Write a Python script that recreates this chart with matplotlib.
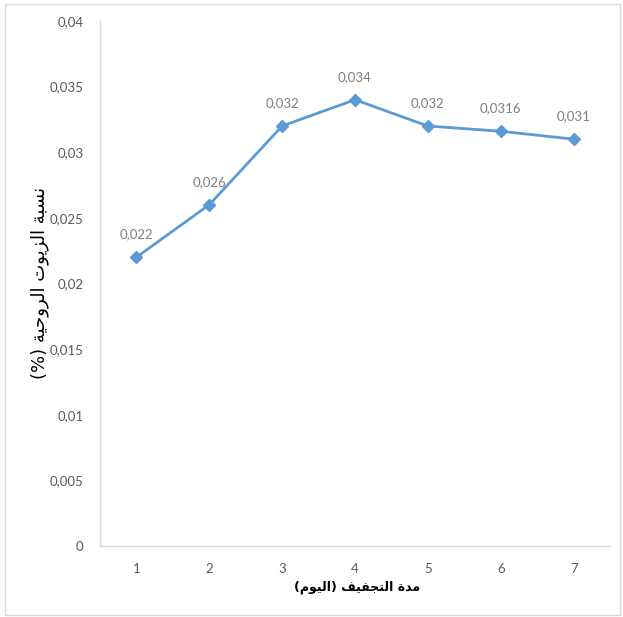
import matplotlib
matplotlib.use("Agg")
import matplotlib.pyplot as plt
from matplotlib.patches import Rectangle

days = [1, 2, 3, 4, 5, 6, 7]
oil_pct = [0.022, 0.026, 0.032, 0.034, 0.032, 0.0316, 0.031]
point_labels = ["0,022", "0,026", "0,032", "0,034", "0,032", "0,0316", "0,031"]
y_ticks = [0, 0.005, 0.01, 0.015, 0.02, 0.025, 0.03, 0.035, 0.04]
y_tick_labels = ["0", "0,005", "0,01", "0,015", "0,02", "0,025", "0,03", "0,035", "0,04"]
x_title = "مدة التجفيف (اليوم)"
y_title = "نسبة الزيوت الروحية (%)"

# contextual forms (isolated, final, initial, medial) for the letters used;
# right-joining letters only have the first two
FORMS = {
    "ا": ("\uFE8D", "\uFE8E"),
    "ب": ("\uFE8F", "\uFE90", "\uFE91", "\uFE92"),
    "ة": ("\uFE93", "\uFE94"),
    "ت": ("\uFE95", "\uFE96", "\uFE97", "\uFE98"),
    "ج": ("\uFE9D", "\uFE9E", "\uFE9F", "\uFEA0"),
    "ح": ("\uFEA1", "\uFEA2", "\uFEA3", "\uFEA4"),
    "د": ("\uFEA9", "\uFEAA"),
    "ر": ("\uFEAD", "\uFEAE"),
    "ز": ("\uFEAF", "\uFEB0"),
    "س": ("\uFEB1", "\uFEB2", "\uFEB3", "\uFEB4"),
    "ف": ("\uFED1", "\uFED2", "\uFED3", "\uFED4"),
    "ل": ("\uFEDD", "\uFEDE", "\uFEDF", "\uFEE0"),
    "م": ("\uFEE1", "\uFEE2", "\uFEE3", "\uFEE4"),
    "ن": ("\uFEE5", "\uFEE6", "\uFEE7", "\uFEE8"),
    "و": ("\uFEED", "\uFEEE"),
    "ي": ("\uFEF1", "\uFEF2", "\uFEF3", "\uFEF4"),
}
MIRROR = {"(": ")", ")": "("}


def arabic(text):
    """Shape Arabic letters and put them in visual (left-to-right) order."""
    out = []
    for i, ch in enumerate(text):
        f = FORMS.get(ch)
        if f is None:
            out.append(MIRROR.get(ch, ch))
            continue
        prev = text[i - 1] if i > 0 else ""
        nxt = text[i + 1] if i + 1 < len(text) else ""
        join_prev = prev in FORMS and len(FORMS[prev]) == 4
        join_next = len(f) == 4 and nxt in FORMS
        if join_prev and join_next:
            out.append(f[3])
        elif join_prev:
            out.append(f[1])
        elif join_next:
            out.append(f[2])
        else:
            out.append(f[0])
    return "".join(reversed(out))


plt.rcParams["font.family"] = ["Lato", "DejaVu Sans"]

fig = plt.figure(figsize=(6.23, 6.17), dpi=100)
ax = fig.add_axes([100 / 623, 71 / 617, 510 / 623, 525 / 617])

line_color = "#5B9BD5"
ax.plot(days, oil_pct, color=line_color, linewidth=2, marker="D",
        markersize=6, markerfacecolor=line_color, markeredgecolor=line_color)
for x, y, lab in zip(days, oil_pct, point_labels):
    ax.annotate(lab, (x, y), xytext=(0, 12), textcoords="offset points",
                ha="center", va="bottom", fontsize=9.5, color="#7F7F7F")

ax.set_xlim(0.5, 7.5)
ax.set_ylim(0, 0.04)
ax.set_xticks(days)
ax.set_xticklabels([str(d) for d in days])
ax.set_yticks(y_ticks)
ax.set_yticklabels(y_tick_labels)
ax.tick_params(axis="both", length=0, labelsize=9.5, labelcolor="#595959")
ax.tick_params(axis="y", pad=12)
ax.tick_params(axis="x", pad=12)

for side in ("top", "right"):
    ax.spines[side].set_visible(False)
for side in ("left", "bottom"):
    ax.spines[side].set_color("#D9D9D9")
    ax.spines[side].set_linewidth(1)

fig.text(357 / 623, 1 - 587 / 617, arabic(x_title), family="DejaVu Sans",
         fontsize=9, fontweight="bold", ha="center", va="center")
fig.text(40 / 623, 1 - 283 / 617, arabic(y_title), family="DejaVu Sans",
         fontsize=13, rotation=90, ha="center", va="center")

# light frame round the whole chart
fig.patches.append(Rectangle((5 / 623, 2 / 617), 615 / 623, 611 / 617,
                             transform=fig.transFigure, fill=False,
                             edgecolor="#D9D9D9", linewidth=1))

fig.savefig("out.png", dpi=100)
